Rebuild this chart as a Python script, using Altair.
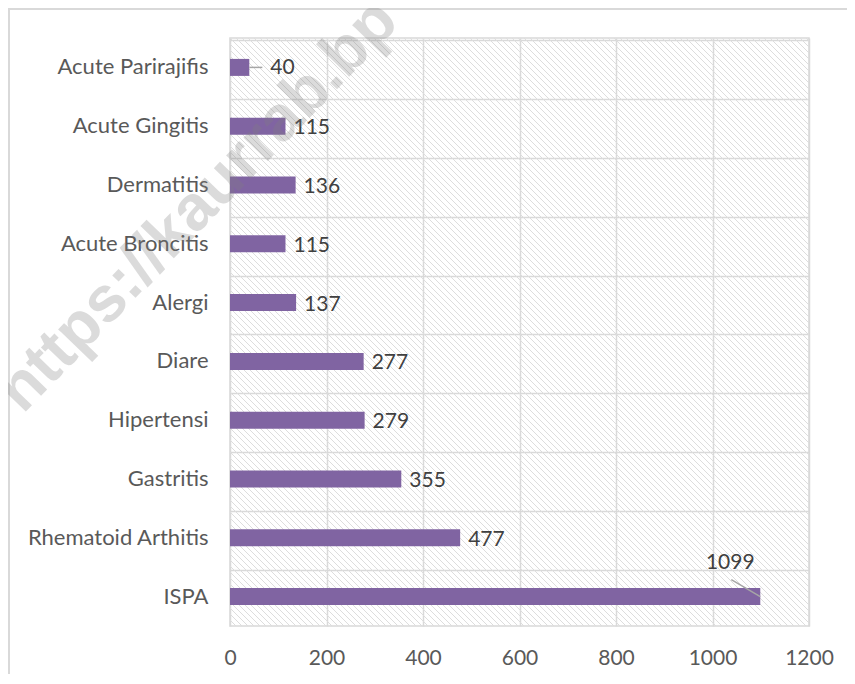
import altair as alt
import numpy as np
import pandas as pd

categories = ["Acute Parirajifis", "Acute Gingitis", "Dermatitis", "Acute Broncitis",
              "Alergi", "Diare", "Hipertensi", "Gastritis", "Rhematoid Arthitis", "ISPA"]
values = [40, 115, 136, 115, 137, 277, 279, 355, 477, 1099]
x_ticks = [0, 200, 400, 600, 800, 1000, 1200]
watermark = "https://kaurrab.bp"

W, H = 579, 588
FONT = "Lato"
GRID = "#d9d9d9"

df = pd.DataFrame({"cat": categories, "value": values})

xscale = alt.Scale(domain=[0, 1200], nice=False, zero=True)
ysort = categories
xaxis = alt.Axis(values=x_ticks, format="d", grid=True, gridColor=GRID, gridWidth=1.5,
                 domain=False, ticks=False, labelFont=FONT, labelFontSize=21,
                 labelColor="#595959", labelPadding=21, labelFlush=False, title=None)

# decorative hatch background (45deg lines, ~6px apart)
units_per_px = 1200 / W
step = 6 * units_per_px
shift = H * units_per_px
starts = np.arange(-shift, 1200 + step, step)
hatch_df = pd.DataFrame({"a": starts, "b": starts + shift, "y1": 1.0, "y0": 0.0})

hatch = alt.Chart(hatch_df).mark_rule(clip=True, stroke="#dddddd", strokeWidth=1).encode(
    x=alt.X("a:Q", scale=xscale, axis=xaxis),
    x2="b:Q",
    y=alt.Y("y1:Q", scale=alt.Scale(domain=[0, 1]), axis=None),
    y2="y0:Q",
)

base = alt.Chart(df)

bars = base.mark_bar(color="#8064a2", size=17).encode(
    x=alt.X("value:Q", scale=xscale, axis=xaxis),
    y=alt.Y("cat:N", sort=ysort,
            axis=alt.Axis(orient="left", grid=True, gridColor=GRID, gridWidth=1.5,
                          bandPosition=0, domain=False, ticks=False, labelFont=FONT,
                          labelFontSize=22, labelColor="#595959", labelPadding=22,
                          labelLimit=400, title=None)),
)

special = ["Acute Parirajifis", "ISPA"]

labels = base.transform_filter(
    ~alt.FieldOneOfPredicate(field="cat", oneOf=special)
).mark_text(align="left", baseline="middle", dx=8, dy=2, font=FONT, fontSize=21,
            color="#404040").encode(
    x=alt.X("value:Q", scale=xscale), y=alt.Y("cat:N", sort=ysort), text="value:Q")

lab40 = base.transform_filter(alt.datum.cat == "Acute Parirajifis").mark_text(
    align="left", baseline="middle", dx=21, dy=1, font=FONT, fontSize=21, color="#404040"
).encode(x=alt.X("value:Q", scale=xscale), y=alt.Y("cat:N", sort=ysort), text="value:Q")

lead40 = base.transform_filter(alt.datum.cat == "Acute Parirajifis").transform_calculate(
    xe="datum.value + 27"
).mark_rule(color="#a6a6a6", strokeWidth=1.5).encode(
    x=alt.X("value:Q", scale=xscale), x2="xe:Q", y=alt.Y("cat:N", sort=ysort))

lab1099 = base.transform_filter(alt.datum.cat == "ISPA").mark_text(
    align="center", baseline="middle", dx=-30, dy=-34, font=FONT, fontSize=21, color="#404040"
).encode(x=alt.X("value:Q", scale=xscale), y=alt.Y("cat:N", sort=ysort), text="value:Q")

lead1099 = base.transform_filter(alt.datum.cat == "ISPA").transform_calculate(
    xe="datum.value - 60"
).mark_rule(color="#a6a6a6", strokeWidth=1.5, y2Offset=-17).encode(
    x=alt.X("value:Q", scale=xscale), x2="xe:Q",
    y=alt.Y("cat:N", sort=ysort, bandPosition=0.5),
    y2=alt.Y2("cat:N", bandPosition=0.5))

one = alt.Chart(pd.DataFrame({"k": [0]}))
border_top = one.mark_rule(color=GRID, strokeWidth=2).encode(
    x=alt.value(-222), x2=alt.value(W + 60), y=alt.value(-29))
border_left = one.mark_rule(color=GRID, strokeWidth=2).encode(
    x=alt.value(-221), y=alt.value(-29), y2=alt.value(H + 80))

wm = one.mark_text(text=watermark, font="Liberation Sans", fontWeight="bold", fontSize=64,
                   angle=314, align="center", baseline="middle", color="#808080",
                   opacity=0.28).encode(x=alt.value(-32), y=alt.value(168))

main = alt.layer(bars, labels, lab40, lead40, lab1099, lead1099, border_top, border_left, wm)

chart = alt.layer(hatch, main).resolve_scale(y="independent").properties(
    width=W, height=H,
    padding={"left": 222, "top": 30, "right": 38, "bottom": 48},
    autosize=alt.AutoSizeParams(type="none"),
).configure_view(stroke=GRID, strokeWidth=1.5)

chart.save("out.html", embed_options={"renderer": "svg", "actions": False})
